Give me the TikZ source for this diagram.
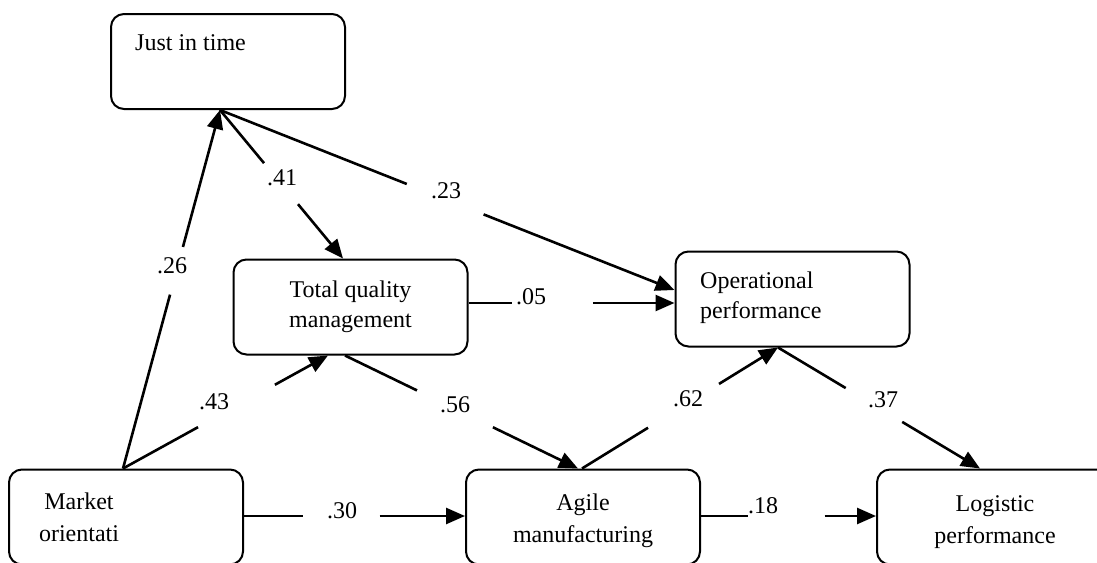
\documentclass[tikz,border=0pt]{standalone}
\usepackage{fontspec}
\setmainfont{Liberation Serif}
\usetikzlibrary{arrows.meta,calc}
\begin{document}
\begin{tikzpicture}[x=1pt,y=-1pt,
 box/.style={draw,line width=2pt,rounded corners=13pt,minimum width=234pt,minimum height=95pt,inner sep=0pt},
 txt/.style={font=\fontsize{24}{30}\selectfont,inner sep=0pt},
 txtb/.style={font=\fontsize{24}{32}\selectfont,inner sep=0pt},
 conn/.style={line width=2.6pt},
 arr/.style={line width=2.6pt,-{Triangle[length=19pt,width=16pt]}},
 lbl/.style={font=\fontsize{24}{30}\selectfont,inner sep=0pt}]
\useasboundingbox (0,0) rectangle (1097,562);
\clip (0,0) rectangle (1097,562);
% boxes
\node[box] (jit) at (228,61.5) {};
\node[box] (tqm) at (350.5,307) {};
\node[box] (op)  at (792.5,299) {};
\node[box] (mo)  at (126,517) {};
\node[box] (am)  at (583,517) {};
\node[box] (lp)  at (994,517) {};
% box texts (base anchor = baseline of last line)
\node[txt,anchor=base west] (jitt) at (135,50) {Just in time};
\node[txt,anchor=base,align=center] (tqmt) at (350.5,327) {Total quality\\management};
\node[txt,anchor=base west,align=left] (opt) at (700,318) {Operational\\performance};
\node[txtb,anchor=base,align=center] (mot) at (79,541) {Market\\orientati};
\node[txtb,anchor=base,align=center] (amt) at (583,542) {Agile\\manufacturing};
\node[txtb,anchor=base,align=center] (lpt) at (995,543) {Logistic\\performance};
% anchor points
\coordinate (moN) at ([xshift=-3pt]mo.north);
\coordinate (jitS) at ([xshift=-8pt]jit.south);
\coordinate (tqmN) at ([xshift=-7.5pt]tqm.north);
\coordinate (tqmSi) at ([xshift=-22.5pt]tqm.south);
\coordinate (tqmSo) at ([xshift=-5.5pt]tqm.south);
\coordinate (tqmE) at ([yshift=4pt]tqm.east);
\coordinate (opWa) at ([yshift=9pt]op.west);
\coordinate (opWb) at ([yshift=-4pt]op.west);
\coordinate (opS) at ([xshift=-14.5pt]op.south);
\coordinate (amNi) at ([xshift=-5pt]am.north);
\coordinate (amNo) at ([xshift=-1pt]am.north);
\coordinate (lpN) at ([xshift=-14pt]lp.north);
\coordinate (moE) at ([yshift=1pt]mo.east);
\coordinate (amW) at ([yshift=1pt]am.west);
\coordinate (amE) at ([yshift=1pt]am.east);
\coordinate (lpW) at ([yshift=1pt]lp.west);
% connectors
\draw[conn] (moN) -- ($(moN)!0.485!(jitS)$);
\draw[arr] ($(moN)!0.618!(jitS)$) -- (jitS);
\draw[conn] (moN) -- ($(moN)!0.366!(tqmSi)$);
\draw[arr] ($(moN)!0.741!(tqmSi)$) -- (tqmSi);
\draw[conn] (jitS) -- ($(jitS)!0.358!(tqmN)$);
\draw[arr] ($(jitS)!0.634!(tqmN)$) -- (tqmN);
\draw[conn] (jitS) -- ($(jitS)!0.411!(opWa)$);
\draw[arr] ($(jitS)!0.580!(opWa)$) -- (opWa);
\draw[conn] (tqmE) -- ($(tqmE)!0.213!(opWb)$);
\draw[arr] ($(tqmE)!0.604!(opWb)$) -- (opWb);
\draw[conn] (tqmSo) -- ($(tqmSo)!0.309!(amNi)$);
\draw[arr] ($(tqmSo)!0.635!(amNi)$) -- (amNi);
\draw[conn] (amNo) -- ($(amNo)!0.337!(opS)$);
\draw[arr] ($(amNo)!0.699!(opS)$) -- (opS);
\draw[conn] (opS) -- ($(opS)!0.335!(lpN)$);
\draw[arr] ($(opS)!0.615!(lpN)$) -- (lpN);
\draw[conn] (moE) -- ($(moE)!0.269!(amW)$);
\draw[arr] ($(moE)!0.614!(amW)$) -- (amW);
\draw[conn] (amE) -- ($(amE)!0.266!(lpW)$);
\draw[arr] ($(amE)!0.706!(lpW)$) -- (lpW);
% labels
\node[lbl] (l26) at (172,266) {.26};
\node[lbl] (l43) at (214,402) {.43};
\node[lbl] (l41) at (282,178) {.41};
\node[lbl] (l23) at (446,191) {.23};
\node[lbl] (l05) at (531,297) {.05};
\node[lbl] (l56) at (455,405) {.56};
\node[lbl] (l62) at (688,399) {.62};
\node[lbl] (l37) at (883,400) {.37};
\node[lbl] (l30) at (342,511) {.30};
\node[lbl] (l18) at (763,506) {.18};
\end{tikzpicture}
\end{document}
